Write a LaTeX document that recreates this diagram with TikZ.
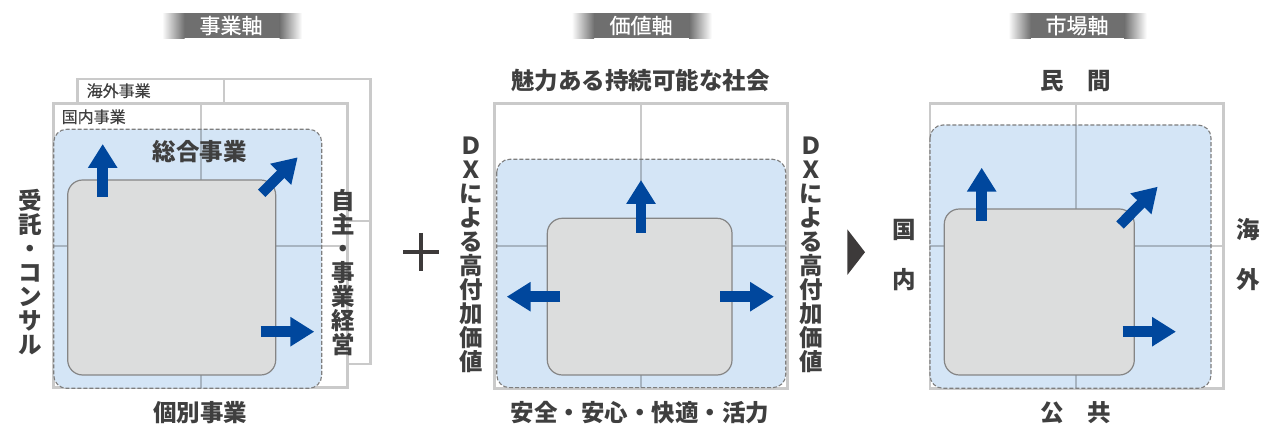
\documentclass[tikz,border=0pt]{standalone}
\usepackage{fontspec}
\setmainfont{Noto Sans CJK JP}
\usetikzlibrary{arrows.meta}
\definecolor{txt}{HTML}{3F3F3F}
\definecolor{bluefill}{HTML}{D4E5F6}
\definecolor{gridc}{HTML}{CACACA}
\definecolor{gridb}{HTML}{A7B4C1}
\definecolor{boxfill}{HTML}{DCDDDD}
\definecolor{boxline}{HTML}{858585}
\definecolor{dashc}{HTML}{7E7E7E}
\definecolor{arrowc}{HTML}{00479D}
\definecolor{barc}{HTML}{6F6F6F}
\definecolor{markc}{HTML}{3D3A3A}
\tikzset{
  outer/.style={draw=gridc, line width=2.5pt, fill=white},
  divline/.style={draw=gridc, line width=1.8pt},
  divblue/.style={draw=gridb, line width=1.8pt},
  zonefill/.style={fill=bluefill},
  zoneedge/.style={draw=dashc, dash pattern=on 4pt off 2pt, line width=1.1pt},
  core/.style={fill=boxfill, draw=boxline, line width=1.2pt, rounded corners=15pt},
  blarrow/.style={draw=arrowc, line width=10.5pt, -{Triangle[width=28pt,length=24pt]}},
  lab/.style={font=\fontsize{23.5}{24}\selectfont\bfseries, text=txt, inner sep=0},
  vlab/.style={lab, align=center},
  smalllab/.style={font=\fontsize{16}{18}\selectfont\addfontfeature{FakeBold=0.4}, text=txt, inner sep=0, anchor=west},
  headlab/.style={font=\fontsize{21}{22}\selectfont\addfontfeature{FakeBold=0.5}, text=white, inner sep=0},
}
\newcommand{\headbar}[2]{% left, right
  \fill[barc] (#1+22,13.3) rectangle (#2-22,38.3);
  \shade[left color=white, right color=barc] (#1,13.3) rectangle (#1+22.5,38.3);
  \shade[left color=barc, right color=white] (#2-22.5,13.3) rectangle (#2,38.3);
}
\begin{document}
\begin{tikzpicture}[x=1pt,y=-1pt]
\useasboundingbox (0,0) rectangle (1262,427);

% ---------- headers
\headbar{162}{302}
\headbar{571.7}{711.7}
\headbar{1008.3}{1146.7}
\node[headlab] (h1) at (231,25.5) {事業軸};
\node[headlab] (h2) at (641,25.5) {価値軸};
\node[headlab] (h3) at (1077,25.5) {市場軸};

% ---------- left panel
\draw[outer] (77.7,79) rectangle (370.7,364);
\draw[divline] (224.3,79) -- (224.3,103.3);
\draw[divline] (347.3,221) -- (370.7,221);
\draw[outer] (53.7,103.3) rectangle (347.3,387.7);
\draw[divline] (200.7,103.3) -- (200.7,387.7);
\draw[divline] (53.7,245.7) -- (347.3,245.7);
\path[zonefill, rounded corners=13pt] (53.7,129.3) rectangle (321.7,388.3);
\begin{scope}
  \clip[rounded corners=13pt] (53.7,129.3) rectangle (321.7,388.3);
  \draw[divblue] (200.7,103.3) -- (200.7,387.7);
  \draw[divblue] (53.7,245.7) -- (347.3,245.7);
\end{scope}
\draw[zoneedge, rounded corners=13pt] (53.7,129.3) rectangle (321.7,388.3);
\draw[core] (67.7,180) rectangle (275.7,375);
\coordinate (la1) at (102.7,196.7); \coordinate (lb1) at (102.7,144);
\coordinate (la2) at (261.7,193.3); \coordinate (lb2) at (297.7,157.3);
\coordinate (la3) at (260.7,331.7); \coordinate (lb3) at (314.3,331.7);
\draw[blarrow] (la1) -- (lb1);
\draw[blarrow] (la2) -- (lb2);
\draw[blarrow] (la3) -- (lb3);
\node[smalllab] (kaigai) at (86.5,90.7) {海外事業};
\node[smalllab] (kokunai) at (61.5,116.7) {国内事業};
\node[lab] (sogo) at (199.5,151.7) {総合事業};
\node[vlab] (jutaku) at (30.7,272.3) {受\\託\\・\\コ\\ン\\サ\\ル};
\node[vlab] (jishu) at (343.3,273) {自\\主\\・\\事\\業\\経\\営};
\node[lab] (kobetsu) at (200,413) {個別事業};

% plus
\draw[markc, line width=4pt] (403.3,252.3) -- (439.3,252.3);
\draw[markc, line width=4pt] (421.3,233) -- (421.3,271);

% ---------- middle panel
\draw[outer] (494.3,103.3) rectangle (787.7,388.3);
\draw[divline] (641,103.3) -- (641,388.3);
\draw[divline] (494.3,245.7) -- (787.7,245.7);
\path[zonefill, rounded corners=13pt] (496.7,159.3) rectangle (785.7,387.7);
\begin{scope}
  \clip[rounded corners=13pt] (496.7,159.3) rectangle (785.7,387.7);
  \draw[divblue] (641,103.3) -- (641,388.3);
  \draw[divblue] (494.3,245.7) -- (787.7,245.7);
\end{scope}
\draw[zoneedge, rounded corners=13pt] (496.7,159.3) rectangle (785.7,387.7);
\draw[core] (547.3,218.3) rectangle (732,375);
\coordinate (ma1) at (641,232.7); \coordinate (mb1) at (641,180);
\coordinate (ma2) at (560,296.7); \coordinate (mb2) at (506.7,296.7);
\coordinate (ma3) at (720,296.7); \coordinate (mb3) at (774,296.7);
\draw[blarrow] (ma1) -- (mb1);
\draw[blarrow] (ma2) -- (mb2);
\draw[blarrow] (ma3) -- (mb3);
\node[lab] (miryoku) at (640.5,81) {魅力ある持続可能な社会};
\node[vlab] (dxl) at (471.7,255) {Ｄ\\Ｘ\\に\\よ\\る\\高\\付\\加\\価\\値};
\node[vlab] (dxr) at (811.7,255) {Ｄ\\Ｘ\\に\\よ\\る\\高\\付\\加\\価\\値};
\node[lab] (anzen) at (640,413) {安全・安心・快適・活力};

% triangle
\fill[markc] (847.3,229.3) -- (865,252.2) -- (847.3,275) -- cycle;

% ---------- right panel
\draw[outer] (930,103.3) rectangle (1223.3,388.3);
\draw[divline] (1076,103.3) -- (1076,388.3);
\draw[divline] (930,245.7) -- (1223.3,245.7);
\path[zonefill, rounded corners=13pt] (930,125) rectangle (1211,388.3);
\begin{scope}
  \clip[rounded corners=13pt] (930,125) rectangle (1211,388.3);
  \draw[divblue] (1076,103.3) -- (1076,388.3);
  \draw[divblue] (930,245.7) -- (1223.3,245.7);
\end{scope}
\draw[zoneedge, rounded corners=13pt] (930,125) rectangle (1211,388.3);
\draw[core] (944.3,209) rectangle (1134.3,375);
\coordinate (ra1) at (981.7,220.7); \coordinate (rb1) at (981.7,167.7);
\coordinate (ra2) at (1120,225); \coordinate (rb2) at (1157.7,186.7);
\coordinate (ra3) at (1122.7,331.7); \coordinate (rb3) at (1176,331.7);
\draw[blarrow] (ra1) -- (rb1);
\draw[blarrow] (ra2) -- (rb2);
\draw[blarrow] (ra3) -- (rb3);
\node[lab] (minkan) at (1075.7,81) {民　間};
\node[lab] (kokyo) at (1075.7,413) {公　共};
\node[lab, align=center, font=\fontsize{23.5}{50}\selectfont\bfseries] (kokunai2) at (904.3,255) {国\\内};
\node[lab, align=center, font=\fontsize{23.5}{50}\selectfont\bfseries] (kaigai2) at (1248.3,255) {海\\外};
\end{tikzpicture}
\end{document}
